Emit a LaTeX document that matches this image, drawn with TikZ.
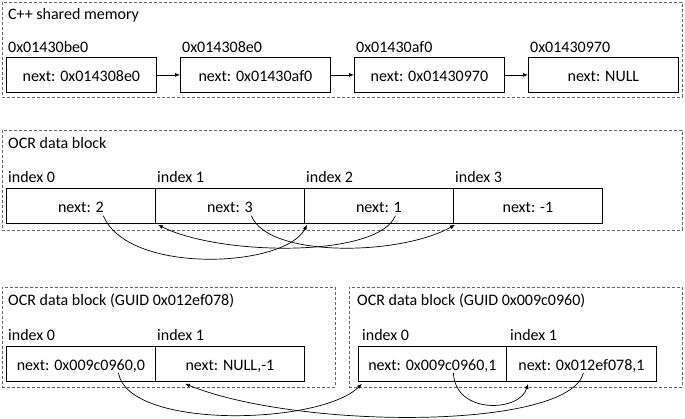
\documentclass[tikz,border=0pt]{standalone}
\usepackage{fontspec}
\setmainfont{Carlito}
\usetikzlibrary{arrows.meta}
\begin{document}
\begin{tikzpicture}[x=1pt,y=-1pt,font=\fontsize{16}{19}\selectfont,
  grp/.style={draw=black!60,dash pattern=on 3pt off 2pt,line width=0.8pt,inner sep=0pt,anchor=north west},
  cell/.style={draw,line width=0.8pt,minimum height=35pt,inner sep=0pt,text height=14pt,text depth=0pt,anchor=north west},
  lbl/.style={anchor=base west,inner sep=0pt},
  arr/.style={-{Latex[length=5pt,width=4pt]},line width=0.7pt}]
\useasboundingbox (0,0) rectangle (685,419);
% group frames
\node[grp,minimum width=680pt,minimum height=95pt] (g1) at (2,2) {};
\node[grp,minimum width=680pt,minimum height=100pt] (g2) at (2,130) {};
\node[grp,minimum width=333pt,minimum height=100pt] (g3) at (2,287) {};
\node[grp,minimum width=333pt,minimum height=100pt] (g4) at (349,287) {};
% top: C++ shared memory
\node[lbl] (t1) at (8,20) {C++ shared memory};
\node[lbl] (ad0) at (8,53) {0x01430be0};
\node[lbl] (ad1) at (182,53) {0x014308e0};
\node[lbl] (ad2) at (356,53) {0x01430af0};
\node[lbl] (ad3) at (530,53) {0x01430970};
\node[cell,minimum width=150pt] (a0) at (6,57) {next: 0x014308e0};
\node[cell,minimum width=150pt] (a1) at (180,57) {next: 0x01430af0};
\node[cell,minimum width=150pt] (a2) at (354,57) {next: 0x01430970};
\node[cell,minimum width=150pt] (a3) at (528,57) {next: NULL};
\draw[arr] (a0.east) -- (a1.west);
\draw[arr] (a1.east) -- (a2.west);
\draw[arr] (a2.east) -- (a3.west);
% middle: OCR data block
\node[lbl] (t2) at (8,149) {OCR data block};
\node[lbl] (i0) at (8,183) {index 0};
\node[lbl] (i1) at (157,183) {index 1};
\node[lbl] (i2) at (306,183) {index 2};
\node[lbl] (i3) at (455,183) {index 3};
\node[cell,minimum width=149pt] (m0) at (6,188) {next: 2};
\node[cell,minimum width=149pt] (m1) at (155,188) {next: 3};
\node[cell,minimum width=149pt] (m2) at (304,188) {next: 1};
\node[cell,minimum width=149pt] (m3) at (453,188) {next: -1};
\draw[arr] ([shift={(22.5,-8)}]m0.south) .. controls (128,275) and (285,268) .. ([shift={(3,1)}]m2.south west);
\draw[arr] ([shift={(21.5,-8)}]m1.south) .. controls (268,258) and (400,256) .. ([shift={(2,1)}]m3.south west);
\draw[arr] ([shift={(16.5,-8)}]m2.south) .. controls (378,258) and (220,256) .. ([shift={(3,1)}]m1.south west);
% bottom left block
\node[lbl] (t3) at (8,306) {OCR data block (GUID 0x012ef078)};
\node[lbl] (j0) at (8,341) {index 0};
\node[lbl] (j1) at (157,341) {index 1};
\node[cell,minimum width=149pt] (b0) at (6,346) {next: 0x009c0960,0};
\node[cell,minimum width=149pt] (b1) at (155,346) {next: NULL,-1};
% bottom right block
\node[lbl] (t4) at (357,306) {OCR data block (GUID 0x009c0960)};
\node[lbl] (k0) at (362,341) {index 0};
\node[lbl] (k1) at (510,341) {index 1};
\node[cell,minimum width=148pt] (r0) at (358,346) {next: 0x009c0960,1};
\node[cell,minimum width=150pt] (r1) at (506,346) {next: 0x012ef078,1};
% bottom curves
\draw[arr] ([shift={(37.5,-9)}]b0.south) .. controls (128,430) and (320,425) .. ([shift={(4,2)}]r0.south west);
\draw[arr] ([shift={(2,-9)}]r1.south) .. controls (570,430) and (300,430) .. ([shift={(30,2)}]b1.south west);
\draw[arr] ([shift={(21,-9)}]r0.south) .. controls (455,415) and (520,412) .. ([shift={(22,2)}]r1.south west);
\end{tikzpicture}
\end{document}
